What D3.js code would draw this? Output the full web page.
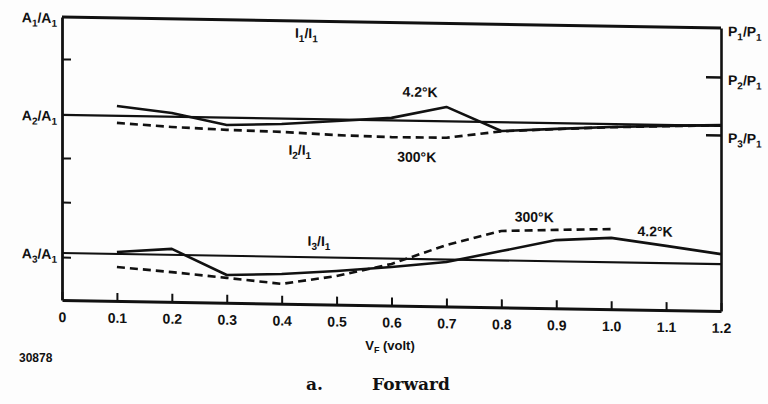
<!DOCTYPE html>
<html>
<head>
<meta charset="utf-8">
<script src="https://cdn.jsdelivr.net/npm/d3@7"></script>
<style>
  body { margin: 0; background: #fdfdfd; }
  svg { display: block; }
  text { font-family: "Liberation Sans", Arial, sans-serif; font-weight: bold; fill: #111; }
</style>
</head>
<body>
<svg id="chart"></svg>
<script>
// forward bias, relative levels (top frame = 1, bottom = 0)
const volts = [0.1, 0.2, 0.3, 0.4, 0.5, 0.6, 0.7, 0.8, 0.9, 1.0, 1.1, 1.2];
const i2_42K  = [0.689, 0.667, 0.628, 0.635, 0.649, 0.663, 0.705, 0.623, 0.634, 0.644, 0.651, 0.657];
const i2_300K = [0.629, 0.618, 0.611, 0.607, 0.599, 0.595, 0.596, 0.622, 0.633, 0.643, 0.650, 0.656];
const i3_42K  = [0.173, 0.187, 0.098, 0.105, 0.119, 0.136, 0.157, 0.199, 0.241, 0.252, 0.227, 0.201];
const volts300Low = [0.1, 0.2, 0.3, 0.4, 0.5, 0.6, 0.7, 0.8, 0.9, 1.0];
const i3_300K = [0.120, 0.105, 0.088, 0.070, 0.101, 0.147, 0.217, 0.270, 0.277, 0.283];

const xTicks = [0, 0.1, 0.2, 0.3, 0.4, 0.5, 0.6, 0.7, 0.8, 0.9, 1.0, 1.1, 1.2];
const levelA2 = 0.654;
const levelA3 = 0.166;
const leftTicks = [0.852, 0.502, 0.346, 0.152];
const rightTicks = [0.827, 0.622];

// labels: [symbol, index, symbol, index, level]
const leftLabels = [["A", "1", "A", "1", 1.0], ["A", "2", "A", "1", levelA2], ["A", "3", "A", "1", levelA3]];
const rightLabels = [["P", "1", "P", "1", 1.0], ["P", "2", "P", "1", 0.827], ["P", "3", "P", "1", 0.622]];
// notes: [text, volt, level]
const notes = [["4.2°K", 0.652, 0.739], ["300°K", 0.646, 0.509], ["300°K", 0.86, 0.304], ["4.2°K", 1.08, 0.26]];
const ratioNotes = [["I", "1", "I", "1", 0.445, 0.94], ["I", "2", "I", "1", 0.433, 0.527], ["I", "3", "I", "1", 0.468, 0.206]];

class ScanChart {
    constructor(config) {
        this.config = {
            parent: config.parent,
            width: config.width || 768,
            height: config.height || 404,
            margin: config.margin || {top: 17, right: 47, bottom: 104, left: 62}
        };
        this.init();
    }

    init() {
        let self = this;
        self.svg = d3.select(self.config.parent)
            .attr('width', self.config.width)
            .attr('height', self.config.height);

        self.inner_width = self.config.width - self.config.margin.left - self.config.margin.right;
        self.inner_height = self.config.height - self.config.margin.top - self.config.margin.bottom;

        // the scanned page is sheared a little: right side sits ~11px lower
        self.chart = self.svg.append('g')
            .attr('transform', `translate(${self.config.margin.left}, ${self.config.margin.top}) skewY(0.96)`);

        self.xscale = d3.scaleLinear().domain([0, 1.2]).range([0, self.inner_width]);
        self.yscale = d3.scaleLinear().domain([0, 1]).range([self.inner_height, 0]);

        self.line = d3.line()
            .x(d => self.xscale(d[0]))
            .y(d => self.yscale(d[1]));
    }

    ratioText(g, p, x, y, anchor) {
        const t = g.append('text')
            .attr('x', x).attr('y', y)
            .attr('text-anchor', anchor)
            .attr('font-size', '14px');
        t.append('tspan').text(p[0]);
        t.append('tspan').attr('dy', 4).attr('font-size', '10px').text(p[1]);
        t.append('tspan').attr('dy', -4).text('/' + p[2]);
        t.append('tspan').attr('dy', 4).attr('font-size', '10px').text(p[3]);
        return t;
    }

    render() {
        let self = this;
        const c = self.chart;
        const W = self.inner_width, H = self.inner_height;

        // x axis, ticks pointing up
        const xaxis = d3.axisBottom(self.xscale)
            .tickValues(xTicks)
            .tickSizeInner(-8).tickSizeOuter(0).tickPadding(12)
            .tickFormat(d => d === 0 ? '0' : d3.format('.1f')(d));
        const xg = c.append('g').attr('transform', `translate(0, ${H})`).call(xaxis);
        xg.select('.domain').attr('stroke', '#111').attr('stroke-width', 3);
        xg.selectAll('.tick line').attr('stroke', '#111').attr('stroke-width', 2);
        xg.selectAll('.tick text').attr('font-size', '14px').attr('fill', '#111');

        const laxis = d3.axisLeft(self.yscale).tickValues(leftTicks)
            .tickSizeInner(-9).tickSizeOuter(0).tickFormat('');
        const lg = c.append('g').call(laxis);
        lg.select('.domain').attr('stroke', '#111').attr('stroke-width', 2.8);
        lg.selectAll('.tick line').attr('stroke', '#111').attr('stroke-width', 2);

        const raxis = d3.axisRight(self.yscale).tickValues(rightTicks)
            .tickSizeInner(-15).tickSizeOuter(0).tickFormat('');
        const rg = c.append('g').attr('transform', `translate(${W}, 0)`).call(raxis);
        rg.select('.domain').attr('stroke', '#111').attr('stroke-width', 2.6);
        rg.selectAll('.tick line').attr('stroke', '#111').attr('stroke-width', 2.4);

        // top frame and the two reference levels
        [1.0, levelA2, levelA3].forEach((lv, i) => {
            c.append('path')
                .attr('d', self.line([[0, lv], [1.2, lv]]))
                .attr('stroke', '#111').attr('fill', 'none')
                .attr('stroke-width', i === 0 ? 3 : 2.2);
        });

        const solid = [volts.map((v, i) => [v, i2_42K[i]]), volts.map((v, i) => [v, i3_42K[i]])];
        const dashed = [volts.map((v, i) => [v, i2_300K[i]]), volts300Low.map((v, i) => [v, i3_300K[i]])];

        solid.forEach(s => c.append('path')
            .attr('d', self.line(s))
            .attr('stroke', '#111').attr('fill', 'none')
            .attr('stroke-width', 2.6).attr('stroke-linejoin', 'round'));

        dashed.forEach(s => c.append('path')
            .attr('d', self.line(s))
            .attr('stroke', '#111').attr('fill', 'none')
            .attr('stroke-width', 2.6).attr('stroke-dasharray', '8,5'));

        // level labels
        leftLabels.forEach(p => self.ratioText(c, p, -5, self.yscale(p[4]) + 6, 'end'));
        rightLabels.forEach(p => self.ratioText(c, p, W + 7, self.yscale(p[4]) + 8, 'start'));

        ratioNotes.forEach(p => self.ratioText(c, p, self.xscale(p[4]), self.yscale(p[5]), 'middle'));
        notes.forEach(n => c.append('text')
            .attr('x', self.xscale(n[1])).attr('y', self.yscale(n[2]))
            .attr('text-anchor', 'middle').attr('font-size', '14px')
            .text(n[0]));

        // x title and captions (outside the sheared frame)
        const title = self.svg.append('text')
            .attr('x', 390).attr('y', 350)
            .attr('text-anchor', 'middle').attr('font-size', '13px');
        title.append('tspan').text('V');
        title.append('tspan').attr('dy', 3).attr('font-size', '9px').text('F');
        title.append('tspan').attr('dy', -3).text(' (volt)');

        self.svg.append('text')
            .attr('x', 19).attr('y', 362)
            .attr('font-size', '12px')
            .text('30878');

        const serif = '"DejaVu Serif", "Liberation Serif", serif';
        self.svg.append('text')
            .attr('x', 306).attr('y', 390)
            .style('font-family', serif)
            .attr('font-size', '17px')
            .text('a.');
        self.svg.append('text')
            .attr('x', 372).attr('y', 390)
            .style('font-family', serif)
            .attr('font-size', '17px')
            .text('Forward');
    }
}

const chart = new ScanChart({parent: '#chart'});
chart.render();
</script>
</body>
</html>
